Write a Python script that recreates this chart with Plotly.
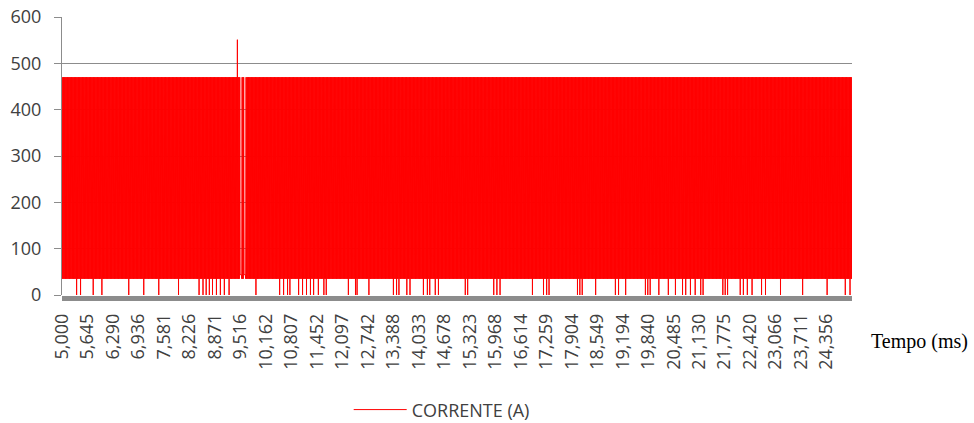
import numpy as np
import plotly.graph_objects as go

# ---- data ----
TICK_LABELS = ["5,000", "5,645", "6,290", "6,936", "7,581", "8,226", "8,871", "9,516",
               "10,162", "10,807", "11,452", "12,097", "12,742", "13,388", "14,033",
               "14,678", "15,323", "15,968", "16,614", "17,259", "17,904", "18,549",
               "19,194", "19,840", "20,485", "21,130", "21,775", "22,420", "23,066",
               "23,711", "24,356"]
Y_TICKS = [0, 100, 200, 300, 400, 500, 600]

T_START_MS = 5000
T_END_MS = 25000
SAMPLE_MS = 10            # sampling step of the current record

PEAK_A = 470              # upper level of the oscillation
TROUGH_A = 35             # lower level of the oscillation
SPIKE_TIME_MS = 9440      # single over-current spike
SPIKE_A = 551
PAUSE_A = 44              # flat level during the short pauses after the spike
PAUSE_WINDOWS_MS = [(9505, 9545), (9605, 9645)]

# instants where the trough drops to 0 A
DIP_TIMES_MS = [5372, 5456, 5793, 6005, 6679, 7059, 7439, 7945, 8470, 8571, 8647, 8723,
                8799, 8900, 9001, 9103, 9229, 9913, 10496, 10597, 10698, 10774, 10977,
                11078, 11180, 11281, 11357, 11483, 11618, 11686, 12251, 12420, 12471,
                12757, 13391, 13459, 13517, 13730, 13813, 14150, 14236, 14302, 14447,
                14530, 15206, 15257, 15923, 16009, 16093, 16896, 17189, 17258, 17316,
                18035, 18101, 18162, 18499, 19005, 19089, 19259, 19765, 19816, 19892,
                20102, 20348, 20525, 20702, 20778, 20905, 21031, 21158, 21234, 21715,
                21791, 21842, 22171, 22247, 22348, 22467, 22703, 22804, 23184, 23741,
                24367, 24830, 24939]

SERIES_NAME = "CORRENTE (A)"
X_TITLE = "Tempo (ms)"

# ---- build the series ----
t = np.arange(T_START_MS, T_END_MS + SAMPLE_MS, SAMPLE_MS)
idx = np.arange(len(t))
current = np.where(idx % 2 == 0, PEAK_A, TROUGH_A).astype(float)

for d in DIP_TIMES_MS:
    k = int(round((d - T_START_MS) / SAMPLE_MS))
    if k % 2 == 0:
        k += 1
    k = min(k, len(t) - 1)
    current[k] = 0

k = int(round((SPIKE_TIME_MS - T_START_MS) / SAMPLE_MS))
if k % 2 == 1:
    k += 1
current[k] = SPIKE_A
for a, b in PAUSE_WINDOWS_MS:
    current[(t >= a) & (t <= b)] = PAUSE_A

tickvals = [int(s.replace(",", "")) for s in TICK_LABELS]

AXIS_GRAY = "#8C8C8C"
TXT = "#404040"
FONT = "Open Sans"

fig = go.Figure()
fig.add_trace(go.Scatter(
    x=t, y=current, mode="lines", name=SERIES_NAME,
    line=dict(color="#FF0000", width=1),
))

fig.update_layout(
    width=974, height=423,
    margin=dict(l=62, r=122, t=17, b=128),
    paper_bgcolor="white", plot_bgcolor="white",
    font=dict(family=FONT, size=18, color=TXT),
    showlegend=True,
    legend=dict(orientation="h", xref="container", yref="container",
                x=0.358, y=0.031, xanchor="left", yanchor="middle",
                font=dict(family=FONT, size=18, color=TXT),
                bgcolor="rgba(0,0,0,0)", itemwidth=53),
    xaxis=dict(range=[T_START_MS, T_END_MS], tickmode="array", tickvals=tickvals,
               ticktext=TICK_LABELS, tickangle=-90, ticks="", showgrid=False,
               showline=False, zeroline=False, ticklabelstandoff=14, automargin=False,
               tickfont=dict(family=FONT, size=18, color=TXT)),
    yaxis=dict(range=[0, 600], tickmode="array", tickvals=Y_TICKS, ticks="outside",
               ticklen=7, tickcolor=AXIS_GRAY, showline=True, linecolor=AXIS_GRAY,
               linewidth=1, showgrid=True, gridcolor=AXIS_GRAY, gridwidth=1,
               zeroline=False, ticklabelstandoff=9, automargin=False,
               tickfont=dict(family=FONT, size=18, color=TXT)),
    shapes=[dict(type="rect", xref="paper", yref="paper", x0=0, x1=1,
                 y0=-0.022, y1=-0.004, fillcolor=AXIS_GRAY, line=dict(width=0),
                 layer="above")],
    annotations=[dict(text=X_TITLE, xref="paper", yref="paper", x=1.022, y=-0.169,
                      xanchor="left", yanchor="middle", showarrow=False,
                      font=dict(family="Liberation Serif", size=20, color="black"))],
)

fig.write_html("out.html", config={"staticPlot": True},
               post_script="document.body.style.margin='0';")
